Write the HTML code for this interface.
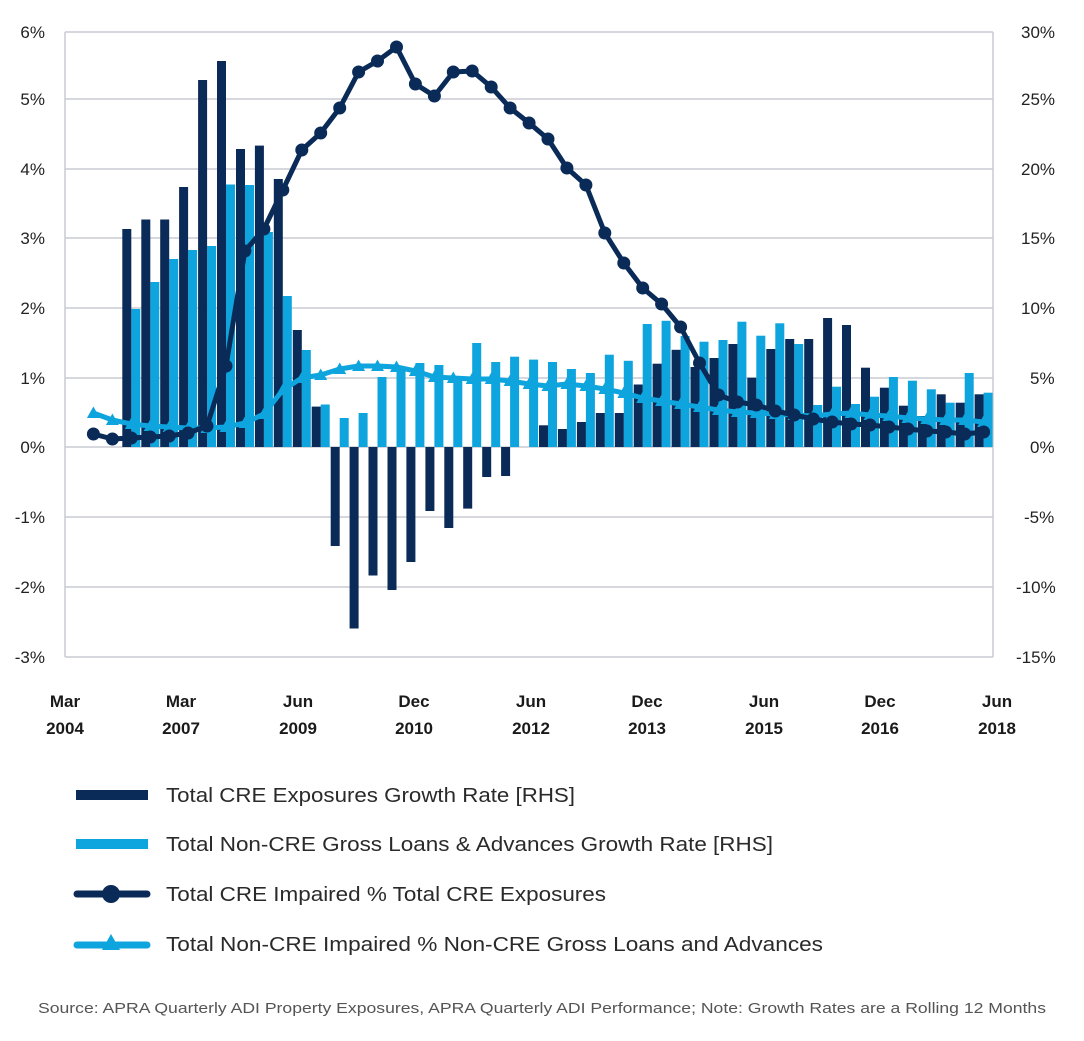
<!DOCTYPE html>
<html><head><meta charset="utf-8"><style>
html,body{margin:0;padding:0;background:#fff}
svg{display:block;font-family:"Liberation Sans",sans-serif}
</style></head><body>
<svg width="1084" height="1041" viewBox="0 0 1084 1041" xmlns="http://www.w3.org/2000/svg">
<defs>
<marker id="mc" markerUnits="userSpaceOnUse" markerWidth="16" markerHeight="16" refX="8" refY="8"><circle cx="8" cy="8" r="6.5" fill="#0a2a57"/></marker>
<marker id="mt" markerUnits="userSpaceOnUse" markerWidth="16" markerHeight="16" refX="8" refY="8"><path d="M8 1.5 L14.5 13 L1.5 13 Z" fill="#0ea4dd"/></marker>
</defs>
<g stroke="#c9ccd4" stroke-width="1.5" fill="none">
<line x1="65" y1="32" x2="993" y2="32"/><line x1="65" y1="99" x2="993" y2="99"/><line x1="65" y1="169" x2="993" y2="169"/><line x1="65" y1="238" x2="993" y2="238"/><line x1="65" y1="308" x2="993" y2="308"/><line x1="65" y1="378" x2="993" y2="378"/><line x1="65" y1="447" x2="993" y2="447"/><line x1="65" y1="517" x2="993" y2="517"/><line x1="65" y1="587" x2="993" y2="587"/><line x1="65" y1="657" x2="993" y2="657"/>
<line x1="65" y1="32" x2="65" y2="657"/><line x1="993" y1="32" x2="993" y2="657"/>
</g>
<g fill="#0ea4dd">
<rect x="131.3" y="309" width="9" height="138"/><rect x="150.3" y="282" width="9" height="165"/><rect x="169.2" y="259" width="9" height="188"/><rect x="188.1" y="250" width="9" height="197"/><rect x="207.1" y="246" width="9" height="201"/><rect x="226" y="184.5" width="9" height="262.5"/><rect x="245" y="185" width="9" height="262"/><rect x="263.9" y="232" width="9" height="215"/><rect x="282.8" y="296" width="9" height="151"/><rect x="301.8" y="350" width="9" height="97"/><rect x="320.7" y="404.5" width="9" height="42.5"/><rect x="339.7" y="418" width="9" height="29"/><rect x="358.6" y="413" width="9" height="34"/><rect x="377.5" y="377" width="9" height="70"/><rect x="396.5" y="367" width="9" height="80"/><rect x="415.4" y="363" width="9" height="84"/><rect x="434.4" y="365" width="9" height="82"/><rect x="453.3" y="377" width="9" height="70"/><rect x="472.2" y="343" width="9" height="104"/><rect x="491.2" y="362" width="9" height="85"/><rect x="510.1" y="356.7" width="9" height="90.3"/><rect x="529.1" y="359.6" width="9" height="87.4"/><rect x="548" y="362" width="9" height="85"/><rect x="566.9" y="369" width="9" height="78"/><rect x="585.9" y="373" width="9" height="74"/><rect x="604.8" y="354.7" width="9" height="92.3"/><rect x="623.8" y="360.8" width="9" height="86.2"/><rect x="642.7" y="324" width="9" height="123"/><rect x="661.6" y="320.8" width="9" height="126.2"/><rect x="680.6" y="336" width="9" height="111"/><rect x="699.5" y="341.7" width="9" height="105.3"/><rect x="718.5" y="340" width="9" height="107"/><rect x="737.4" y="321.7" width="9" height="125.3"/><rect x="756.3" y="335.7" width="9" height="111.3"/><rect x="775.3" y="323.3" width="9" height="123.7"/><rect x="794.2" y="344" width="9" height="103"/><rect x="813.2" y="405" width="9" height="42"/><rect x="832.1" y="386.7" width="9" height="60.3"/><rect x="851" y="404" width="9" height="43"/><rect x="870" y="396.7" width="9" height="50.3"/><rect x="888.9" y="377" width="9" height="70"/><rect x="907.9" y="380.7" width="9" height="66.3"/><rect x="926.8" y="389.3" width="9" height="57.7"/><rect x="945.7" y="402.7" width="9" height="44.3"/><rect x="964.7" y="373" width="9" height="74"/><rect x="983.6" y="392.7" width="9" height="54.3"/>
</g>
<g fill="#0a2a57">
<rect x="122.3" y="229" width="9" height="218"/><rect x="141.3" y="219.5" width="9" height="227.5"/><rect x="160.2" y="219.5" width="9" height="227.5"/><rect x="179.1" y="187" width="9" height="260"/><rect x="198.1" y="80" width="9" height="367"/><rect x="217" y="61" width="9" height="386"/><rect x="236" y="149" width="9" height="298"/><rect x="254.9" y="145.6" width="9" height="301.4"/><rect x="273.8" y="179" width="9" height="268"/><rect x="292.8" y="330" width="9" height="117"/><rect x="311.7" y="406.6" width="9" height="40.4"/><rect x="330.7" y="447" width="9" height="99"/><rect x="349.6" y="447" width="9" height="181.5"/><rect x="368.5" y="447" width="9" height="128.5"/><rect x="387.5" y="447" width="9" height="143"/><rect x="406.4" y="447" width="9" height="115"/><rect x="425.4" y="447" width="9" height="64"/><rect x="444.3" y="447" width="9" height="81"/><rect x="463.2" y="447" width="9" height="61.6"/><rect x="482.2" y="447" width="9" height="30"/><rect x="501.1" y="447" width="9" height="29"/><rect x="539" y="425.3" width="9" height="21.7"/><rect x="557.9" y="429" width="9" height="18"/><rect x="576.9" y="422" width="9" height="25"/><rect x="595.8" y="413" width="9" height="34"/><rect x="614.8" y="413" width="9" height="34"/><rect x="633.7" y="384.5" width="9" height="62.5"/><rect x="652.6" y="363.7" width="9" height="83.3"/><rect x="671.6" y="349.8" width="9" height="97.2"/><rect x="690.5" y="367" width="9" height="80"/><rect x="709.5" y="358" width="9" height="89"/><rect x="728.4" y="344" width="9" height="103"/><rect x="747.3" y="377.7" width="9" height="69.3"/><rect x="766.3" y="349" width="9" height="98"/><rect x="785.2" y="339" width="9" height="108"/><rect x="804.2" y="339" width="9" height="108"/><rect x="823.1" y="318" width="9" height="129"/><rect x="842" y="325" width="9" height="122"/><rect x="861" y="367.7" width="9" height="79.3"/><rect x="879.9" y="387.7" width="9" height="59.3"/><rect x="898.9" y="405.7" width="9" height="41.3"/><rect x="917.8" y="416" width="9" height="31"/><rect x="936.7" y="394.3" width="9" height="52.7"/><rect x="955.7" y="402.7" width="9" height="44.3"/><rect x="974.6" y="394.3" width="9" height="52.7"/>
</g>
<polyline fill="none" stroke="#0ea4dd" stroke-width="5" stroke-linejoin="round" marker-start="url(#mt)" marker-mid="url(#mt)" marker-end="url(#mt)" points="93.4,413 112.4,420 131.3,424 150.2,426 169.2,427 188.1,428 207,428 226,427 244.9,423 263.9,414 282.8,390 301.8,378 320.7,375 339.7,369 358.6,366 377.5,366 396.5,367 415.4,371 434.4,377 453.3,378 472.2,379 491.2,379 510.1,381 529.1,384 548,386 566.9,384 585.9,386 604.8,389 623.8,393 642.7,398 661.6,401 680.6,404 699.5,407 718.5,410 737.4,412 756.3,413 775.3,414 794.2,415 813.2,416 832.1,414 851,413 870,415 888.9,416 907.9,418 926.8,419 945.7,420 964.7,420 983.6,422"/>
<polyline fill="none" stroke="#0a2a57" stroke-width="5" stroke-linejoin="round" marker-start="url(#mc)" marker-mid="url(#mc)" marker-end="url(#mc)" points="93.4,434 112.4,439 131.3,438 150.2,437 169.2,436 188.1,433 207,426 226,366 244.9,251 263.9,229 282.8,190 301.8,150 320.7,133 339.7,108 358.6,72 377.5,61 396.5,47 415.4,84 434.4,96 453.3,72 472.2,71 491.2,87 510.1,108 529.1,123 548,139 566.9,168 585.9,185 604.8,233 623.8,263 642.7,288 661.6,304 680.6,327 699.5,363 718.5,395 737.4,402 756.3,405 775.3,411 794.2,415 813.2,419 832.1,422 851,424 870,425 888.9,427 907.9,429 926.8,431 945.7,432 964.7,434 983.6,432"/>
<g font-size="17" fill="#222" text-anchor="end">
<text x="45" y="38">6%</text><text x="45" y="105">5%</text><text x="45" y="175">4%</text><text x="45" y="244">3%</text><text x="45" y="314">2%</text><text x="45" y="384">1%</text><text x="45" y="453">0%</text><text x="45" y="523">-1%</text><text x="45" y="593">-2%</text><text x="45" y="663">-3%</text>
</g>
<g font-size="17" fill="#222">
<text x="1021" y="38">30%</text><text x="1021" y="105">25%</text><text x="1021" y="175">20%</text><text x="1021" y="244">15%</text><text x="1021" y="314">10%</text><text x="1030" y="384">5%</text><text x="1030" y="453">0%</text><text x="1024" y="523">-5%</text><text x="1016" y="593">-10%</text><text x="1016" y="663">-15%</text>
</g>
<g font-size="17" fill="#1a1a1a" text-anchor="middle" font-weight="bold">
<text x="65" y="707">Mar</text><text x="65" y="734">2004</text>
<text x="181" y="707">Mar</text><text x="181" y="734">2007</text>
<text x="298" y="707">Jun</text><text x="298" y="734">2009</text>
<text x="414" y="707">Dec</text><text x="414" y="734">2010</text>
<text x="531" y="707">Jun</text><text x="531" y="734">2012</text>
<text x="647" y="707">Dec</text><text x="647" y="734">2013</text>
<text x="764" y="707">Jun</text><text x="764" y="734">2015</text>
<text x="880" y="707">Dec</text><text x="880" y="734">2016</text>
<text x="997" y="707">Jun</text><text x="997" y="734">2018</text>
</g>
<rect x="76" y="790" width="72" height="10" fill="#0a2a57"/>
<rect x="76" y="839" width="72" height="10" fill="#0ea4dd"/>
<line x1="77" y1="894" x2="147" y2="894" stroke="#0a2a57" stroke-width="7" stroke-linecap="round"/>
<circle cx="111" cy="894" r="9" fill="#0a2a57"/>
<line x1="77" y1="945" x2="147" y2="945" stroke="#0ea4dd" stroke-width="7" stroke-linecap="round"/>
<path d="M111 934 L120 950 L102 950 Z" fill="#0ea4dd"/>
<g font-size="20" fill="#2a2a2a">
<text x="166" y="802" textLength="409" lengthAdjust="spacingAndGlyphs">Total CRE Exposures Growth Rate [RHS]</text>
<text x="166" y="851" textLength="607" lengthAdjust="spacingAndGlyphs">Total Non-CRE Gross Loans &amp; Advances Growth Rate [RHS]</text>
<text x="166" y="901" textLength="440" lengthAdjust="spacingAndGlyphs">Total CRE Impaired % Total CRE Exposures</text>
<text x="166" y="951" textLength="657" lengthAdjust="spacingAndGlyphs">Total Non-CRE Impaired % Non-CRE Gross Loans and Advances</text>
</g>
<text x="38" y="1013" font-size="14.5" fill="#555" textLength="1008" lengthAdjust="spacingAndGlyphs">Source: APRA Quarterly ADI Property Exposures, APRA Quarterly ADI Performance; Note: Growth Rates are a Rolling 12 Months</text>
</svg>
</body></html>
